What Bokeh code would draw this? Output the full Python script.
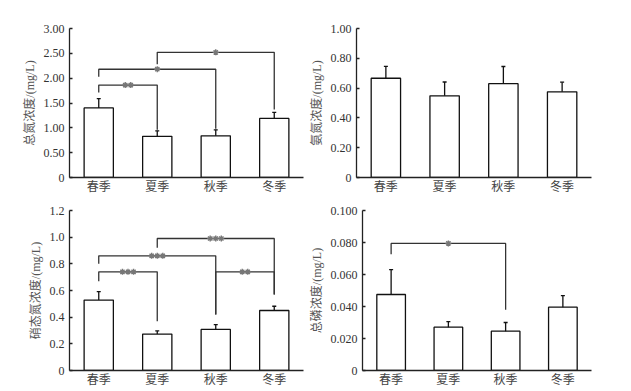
from bokeh.plotting import figure
from bokeh.layouts import column, row
from bokeh.models import (ColumnDataSource, Range1d, FixedTicker,
                          Whisker, TeeHead)
from bokeh.embed import file_html
from bokeh.resources import INLINE

seasons = ["春季", "夏季", "秋季", "冬季"]

# Panel 1: total nitrogen
tn_mean = [1.40, 0.83, 0.84, 1.19]
tn_err = [0.19, 0.11, 0.12, 0.12]
# Panel 2: ammonia nitrogen
an_mean = [0.666, 0.548, 0.630, 0.575]
an_err = [0.080, 0.093, 0.115, 0.065]
# Panel 3: nitrate nitrogen
nn_mean = [0.528, 0.273, 0.308, 0.450]
nn_err = [0.063, 0.024, 0.036, 0.032]
# Panel 4: total phosphorus
tp_mean = [0.0475, 0.0271, 0.0246, 0.0396]
tp_err = [0.0156, 0.0035, 0.0054, 0.0072]

ylabels = ["总氮浓度/(mg/L)", "氨氮浓度/(mg/L)", "硝态氮浓度/(mg/L)", "总磷浓度/(mg/L)"]
ymax = [3.0, 1.0, 1.2, 0.1]
ystep = [0.5, 0.2, 0.2, 0.02]
ydec = [2, 2, 1, 3]

# significance brackets: (left, right, bar level, left leg end, right leg end, label)
tn_sig = [("春季", "夏季", 1.86, 1.71, 0.96, "**"),
          ("春季", "秋季", 2.18, 2.03, 0.98, "*"),
          ("夏季", "冬季", 2.52, 2.28, 1.37, "*")]
an_sig = []
nn_sig = [("春季", "夏季", 0.74, 0.67, 0.37, "***"),
          ("春季", "秋季", 0.86, 0.80, 0.42, "***"),
          ("夏季", "冬季", 0.99, 0.92, 0.57, "***"),
          ("秋季", "冬季", 0.74, 0.42, 0.57, "**")]
tp_sig = [("春季", "秋季", 0.0794, 0.0727, 0.0379, "*")]

LAT = "'Liberation Serif', 'Noto Sans CJK SC'"
STAR_GAP = 0.095  # spacing between asterisks, in category units


def panel(means, errs, sig, ylabel, top, step, dec, width, height, bl, br, bt, bb):
    n = len(seasons)
    idx = list(range(n))
    p = figure(x_range=Range1d(-0.5, n - 0.5),
               y_range=Range1d(0, top),
               width=width, height=height, output_backend="svg",
               toolbar_location=None, min_border_left=bl, min_border_right=br,
               min_border_top=bt, min_border_bottom=bb)
    p.outline_line_color = None
    p.xgrid.visible = False
    p.ygrid.visible = False

    src = ColumnDataSource(dict(x=idx, top=means,
                                upper=[m + e for m, e in zip(means, errs)],
                                lower=[m - e for m, e in zip(means, errs)]))
    p.vbar(x="x", top="top", width=0.5, source=src, fill_color="white",
           line_color="#111111", line_width=1.3)
    w = Whisker(base="x", upper="upper", lower="lower", source=src,
                line_color="#111111", line_width=1.3,
                upper_head=TeeHead(size=4, line_color="#111111", line_width=1.3),
                lower_head=TeeHead(size=4, line_color="#111111", line_width=1.3))
    p.add_layout(w)

    if sig:
        xs, ys, sx, sy = [], [], [], []
        for a, b, lev, la, lb, lab in sig:
            ia, ib = seasons.index(a), seasons.index(b)
            xs.append([ia, ia, ib, ib])
            ys.append([la, lev, lev, lb])
            k = len(lab)
            mid = (ia + ib) / 2
            for j in range(k):
                sx.append(mid + (j - (k - 1) / 2) * STAR_GAP)
                sy.append(lev)
        p.multi_line(xs=xs, ys=ys, line_color="#333333", line_width=1.3)
        p.scatter(x=sx, y=sy, marker="asterisk", size=6,
                  line_color="#777777", line_width=1.4)

    ticks = [round(i * step, 4) for i in range(int(round(top / step)) + 1)]
    p.yaxis.ticker = FixedTicker(ticks=ticks)
    p.yaxis.major_label_overrides = {t: ("0" if t == 0 else f"{t:.{dec}f}") for t in ticks}
    p.xaxis.ticker = FixedTicker(ticks=idx)
    p.xaxis.major_label_overrides = {i: s for i, s in zip(idx, seasons)}
    for ax in (p.xaxis[0], p.yaxis[0]):
        ax.axis_line_color = "#222222"
        ax.axis_line_width = 1.3
        ax.major_label_text_font = LAT
        ax.major_label_text_font_size = "12px"
        ax.major_label_text_color = "#333333"
        ax.minor_tick_line_color = None
    p.xaxis.major_label_text_color = "#444444"
    p.yaxis.major_tick_in = 3
    p.yaxis.major_tick_out = 0
    p.yaxis.major_tick_line_color = "#222222"
    p.yaxis.major_tick_line_width = 1.3
    p.yaxis.major_label_standoff = 5
    p.xaxis.major_tick_line_color = None
    p.xaxis.major_tick_in = 0
    p.xaxis.major_tick_out = 0
    p.xaxis.major_label_standoff = 2
    p.yaxis.axis_label = ylabel
    p.yaxis.axis_label_text_font = LAT
    p.yaxis.axis_label_text_font_size = "12px"
    p.yaxis.axis_label_text_font_style = "normal"
    p.yaxis.axis_label_text_color = "#555555"
    p.yaxis.axis_label_standoff = 4
    return p


p1 = panel(tn_mean, tn_err, tn_sig, ylabels[0], ymax[0], ystep[0], ydec[0],
           306, 197, 69, 3, 28, 20)
p2 = panel(an_mean, an_err, an_sig, ylabels[1], ymax[1], ystep[1], ydec[1],
           325, 197, 50, 40, 19, 20)
p3 = panel(nn_mean, nn_err, nn_sig, ylabels[2], ymax[2], ystep[2], ydec[2],
           306, 194, 69, 3, 13, 21)
p4 = panel(tp_mean, tp_err, tp_sig, ylabels[3], ymax[3], ystep[3], ydec[3],
           325, 194, 50, 40, 13, 21)

layout = column(row(p1, p2), row(p3, p4))
open("out.html", "w").write(file_html(layout, INLINE))
